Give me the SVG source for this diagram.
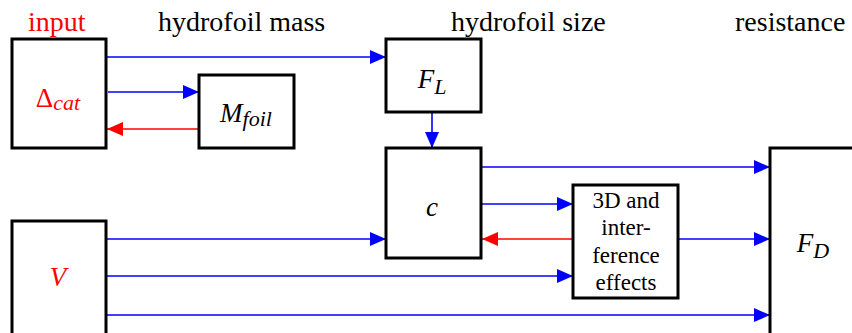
<svg xmlns="http://www.w3.org/2000/svg" width="852" height="333" viewBox="0 0 852 333">
<defs>
<marker id="ab" markerWidth="16" markerHeight="14" refX="16" refY="7" orient="auto" markerUnits="userSpaceOnUse"><path d="M0,0 L16,7 L0,14 Z" fill="#0000ff"/></marker>
<marker id="ar" markerWidth="16" markerHeight="14" refX="16" refY="7" orient="auto" markerUnits="userSpaceOnUse"><path d="M0,0 L16,7 L0,14 Z" fill="#ff0000"/></marker>
</defs>
<style>
.box{fill:#fff;stroke:#000;stroke-width:3}
.b{stroke:#0000ff;stroke-width:1.6;fill:none;marker-end:url(#ab)}
.r{stroke:#ff0000;stroke-width:1.6;fill:none;marker-end:url(#ar)}
.hd{font-size:28px;fill:#000}
.m{font-style:italic;font-size:27px;text-anchor:middle;fill:#000}
.t{font-size:23px;text-anchor:middle;fill:#000}
.red{fill:#ff0000}
</style>
<rect width="852" height="333" fill="#fff"/>
<text class="hd red" font-family="Liberation Serif" x="28" y="31">input</text>
<text class="hd" font-family="Liberation Serif" x="158" y="31">hydrofoil mass</text>
<text class="hd" font-family="Liberation Serif" x="451" y="31">hydrofoil size</text>
<text class="hd" font-family="Liberation Serif" x="735" y="31">resistance</text>
<g id="connectors">
<line class="b" x1="106" y1="57" x2="386" y2="57"/>
<line class="b" x1="108" y1="92" x2="199" y2="92"/>
<line class="r" x1="199" y1="129" x2="107" y2="129"/>
<line class="b" x1="432" y1="112" x2="432" y2="148"/>
<line class="b" x1="482" y1="167" x2="770" y2="167"/>
<line class="b" x1="482" y1="204" x2="573" y2="204"/>
<line class="r" x1="573" y1="239" x2="482" y2="239"/>
<line class="b" x1="678" y1="239" x2="770" y2="239"/>
<line class="b" x1="107" y1="239" x2="386" y2="239"/>
<line class="b" x1="107" y1="276" x2="573" y2="276"/>
<line class="b" x1="107" y1="315" x2="770" y2="315"/>
</g>
<g id="delta">
<rect class="box" x="12" y="39" width="94" height="109"/>
<text class="m red" font-family="Liberation Serif" x="58" y="107"><tspan font-style="normal">Δ</tspan><tspan font-size="22" dy="3">cat</tspan></text>
</g>
<g id="mfoil">
<rect class="box" x="199" y="75" width="95" height="73"/>
<text class="m" font-family="Liberation Serif" x="246" y="122">M<tspan font-size="22" dy="4">foil</tspan></text>
</g>
<g id="fl">
<rect class="box" x="386" y="39" width="95" height="73"/>
<text class="m" font-family="Liberation Serif" x="432" y="88">F<tspan font-size="22" dy="6">L</tspan></text>
</g>
<g id="c">
<rect class="box" x="386" y="148" width="95" height="110"/>
<text class="m" font-family="Liberation Serif" x="432" y="216">c</text>
</g>
<g id="effects">
<rect class="box" x="573" y="185" width="105" height="113"/>
<text class="t" font-family="Liberation Serif" x="626" y="208">3D and</text>
<text class="t" font-family="Liberation Serif" x="626" y="235">inter-</text>
<text class="t" font-family="Liberation Serif" x="626" y="263">ference</text>
<text class="t" font-family="Liberation Serif" x="626" y="290">effects</text>
</g>
<g id="fd">
<rect class="box" x="770" y="148" width="100" height="200"/>
<text class="m" font-family="Liberation Serif" x="813" y="252">F<tspan font-size="22" dy="6">D</tspan></text>
</g>
<g id="v">
<rect class="box" x="12" y="221" width="94" height="130"/>
<text class="m red" font-family="Liberation Serif" x="58" y="286">V</text>
</g>
</svg>
